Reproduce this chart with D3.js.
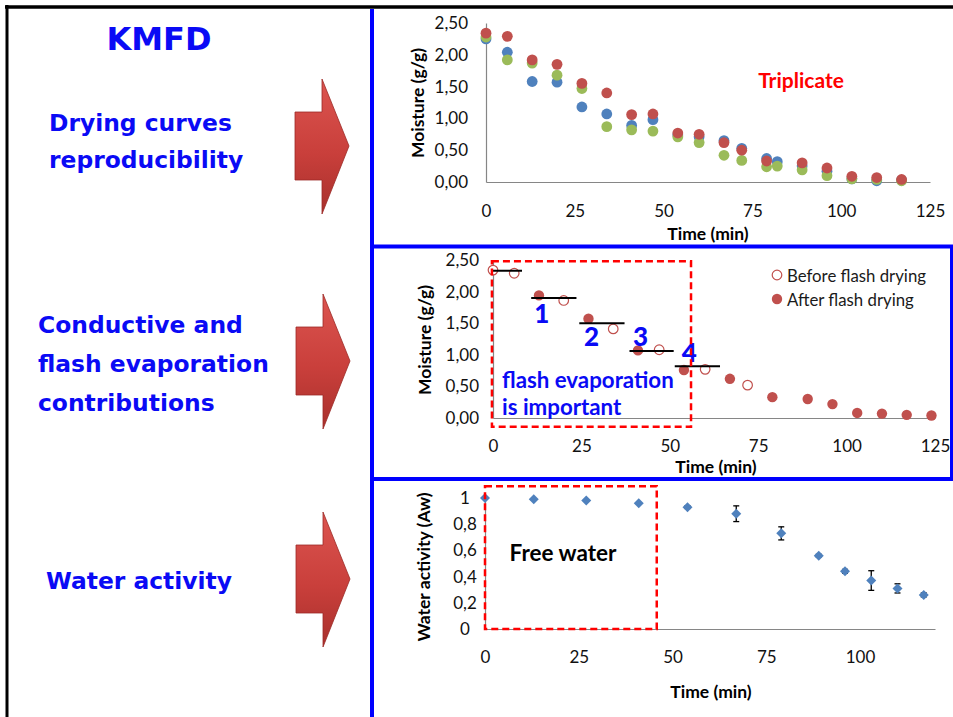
<!DOCTYPE html>
<html>
<head>
<meta charset="utf-8">
<script src="https://cdn.jsdelivr.net/npm/d3@7"></script>
<style>
  body { margin: 0; background: #fff; }
  svg { display: block; }
</style>
</head>
<body>
<script>
// drying curves, triplicate
const tripTimes = [0, 6, 13, 20, 27, 34, 41, 47, 54, 60, 67, 72, 79, 82, 89, 96, 103, 110, 117];
const tripBlue = [2.25, 2.04, 1.58, 1.57, 1.18, 1.07, 0.89, 0.98, 0.74, 0.71, 0.65, 0.53, 0.37, 0.32, 0.25, 0.17, 0.05, 0.02, 0.03];
const tripGreen = [2.28, 1.92, 1.87, 1.68, 1.47, 0.87, 0.82, 0.8, 0.71, 0.62, 0.42, 0.34, 0.24, 0.25, 0.19, 0.1, 0.05, 0.04, 0.02];
const tripRed = [2.34, 2.29, 1.92, 1.85, 1.55, 1.4, 1.06, 1.07, 0.77, 0.75, 0.62, 0.5, 0.33, null, 0.3, 0.22, 0.09, 0.07, 0.04];

// flash evaporation
const beforeTimes = [0, 6, 20, 34, 47, 60, 72];
const beforeValues = [2.34, 2.29, 1.86, 1.41, 1.08, 0.77, 0.52];
const afterTimes = [13, 27, 41, 54, 67, 79, 89, 96, 103, 110, 117, 124];
const afterValues = [1.94, 1.57, 1.07, 0.76, 0.62, 0.33, 0.3, 0.22, 0.08, 0.07, 0.05, 0.04];
const stepFrom = [-0.3, 10.8, 24.4, 38.6, 51.4];
const stepTo = [8.2, 23.6, 37.2, 51.1, 64.2];
const stepLevel = [2.33, 1.9, 1.5, 1.06, 0.82];
const stepLabels = ["1", "2", "3", "4"];
const stepLabelTimes = [13.8, 27.9, 41.7, 55.5];
const stepLabelValues = [1.66, 1.3, 1.3, 1.04];

// water activity
const awTimes = [0, 13, 27, 41, 54, 67, 79, 89, 96, 103, 110, 117];
const awValues = [1.0, 0.99, 0.98, 0.96, 0.93, 0.88, 0.73, 0.56, 0.44, 0.37, 0.31, 0.26];
const awErrors = [0.005, 0.005, 0.005, 0.005, 0.01, 0.06, 0.05, 0.01, 0.015, 0.075, 0.035, 0.015];

const moistureTicks = [0, 0.5, 1, 1.5, 2, 2.5];
const awTicks = [0, 0.2, 0.4, 0.6, 0.8, 1];
const timeTicks = [0, 25, 50, 75, 100, 125];
const awTimeTicks = [0, 25, 50, 75, 100];

const leftTitle = "KMFD";
const leftLines = [
  ["Drying curves", "reproducibility"],
  ["Conductive and", "flash evaporation", "contributions"],
  ["Water activity"],
];

const blue = "#4f81bd";
const red = "#c0504d";
const green = "#9bbb59";
const textBlue = "#0a0af5";
const axisGrey = "#868686";
const chartFont = "Lato, 'Open Sans', sans-serif";
const leftFont = "'DejaVu Sans', Verdana, sans-serif";

const width = 953;
const height = 717;

const svg = d3
  .select("body")
  .append("svg")
  .attr("width", width)
  .attr("height", height);

const comma = (fmt) => (d) => d3.format(fmt)(d).replace(".", ",");

// frame lines
const frame = svg.append("g");
frame.append("line").attr("x1", 5).attr("x2", width).attr("y1", 7).attr("y2", 7)
  .attr("stroke", "#000").attr("stroke-width", 3.5);
frame.append("line").attr("x1", 7).attr("x2", 7).attr("y1", 5).attr("y2", height)
  .attr("stroke", "#000").attr("stroke-width", 3);
frame.append("line").attr("x1", 372).attr("x2", 372).attr("y1", 9).attr("y2", height)
  .attr("stroke", "#0000ff").attr("stroke-width", 4);
frame.append("line").attr("x1", 370).attr("x2", width).attr("y1", 246.5).attr("y2", 246.5)
  .attr("stroke", "#0000ff").attr("stroke-width", 4);
frame.append("line").attr("x1", 370).attr("x2", width).attr("y1", 479).attr("y2", 479)
  .attr("stroke", "#0000ff").attr("stroke-width", 4);
frame.append("line").attr("x1", 951.5).attr("x2", 951.5).attr("y1", 246).attr("y2", 479)
  .attr("stroke", "#0000ff").attr("stroke-width", 3);

// left text
const left = svg.append("g").attr("font-family", leftFont).attr("font-weight", "bold").attr("fill", textBlue);

left.append("text").attr("x", 159).attr("y", 50).attr("text-anchor", "middle")
  .attr("font-size", 32).text(leftTitle);

const leftX = [49, 38, 46];
const leftY = [131, 333, 589];
const leftStep = [37, 39, 0];

leftLines.forEach((lines, i) => {
  lines.forEach((line, j) => {
    left.append("text")
      .attr("x", leftX[i])
      .attr("y", leftY[i] + j * leftStep[i])
      .attr("font-size", 23.4)
      .text(line);
  });
});

// arrows
const defs = svg.append("defs");
const grad = defs.append("linearGradient").attr("id", "arrowGrad")
  .attr("x1", 0).attr("y1", 0).attr("x2", 0).attr("y2", 1);
grad.append("stop").attr("offset", "0%").attr("stop-color", "#dc5550");
grad.append("stop").attr("offset", "55%").attr("stop-color", "#c93f3b");
grad.append("stop").attr("offset", "100%").attr("stop-color", "#a8302c");

const arrowTips = [[349, 146], [350, 361], [350, 579]];
arrowTips.forEach(([tx, ty]) => {
  const pts = [
    [tx - 54, ty - 34], [tx - 27, ty - 34], [tx - 27, ty - 67], [tx, ty],
    [tx - 27, ty + 68], [tx - 27, ty + 34], [tx - 54, ty + 34],
  ];
  svg.append("path")
    .attr("d", d3.line()(pts) + "Z")
    .attr("fill", "url(#arrowGrad)")
    .attr("stroke", "#9c2a26")
    .attr("stroke-width", 0.8);
});

const styleAxis = (g) => {
  g.select(".domain").attr("stroke", axisGrey).attr("stroke-width", 1.2);
  g.selectAll(".tick line").remove();
  g.selectAll("text").attr("font-family", chartFont).attr("font-size", 17).attr("fill", "#111");
};

const axisTitle = (x, y, label, rotate) => {
  const t = svg.append("text")
    .attr("font-family", chartFont)
    .attr("font-weight", "bold")
    .attr("font-size", 17.5)
    .attr("fill", "#000")
    .attr("text-anchor", "middle")
    .attr("dominant-baseline", "central")
    .text(label);
  if (rotate) t.attr("transform", `translate(${x},${y}) rotate(-90)`);
  else t.attr("x", x).attr("y", y);
};

// chart 1: triplicate
const x1 = d3.scaleLinear().domain([0, 125]).range([486, 930]);
const y1 = d3.scaleLinear().domain([0, 2.5]).range([182, 23]);

svg.append("g").attr("transform", `translate(0,${y1(0)})`)
  .call(d3.axisBottom(x1).tickValues(timeTicks).tickSize(0).tickPadding(23).tickSizeOuter(0))
  .call(styleAxis);
svg.append("g").attr("transform", `translate(${x1(0)},0)`)
  .call(d3.axisLeft(y1).tickValues(moistureTicks).tickFormat(comma(".2f")).tickSize(0).tickPadding(18).tickSizeOuter(0))
  .call(styleAxis);

[[tripBlue, blue], [tripGreen, green], [tripRed, red]].forEach(([vals, color]) => {
  svg.append("g")
    .selectAll("circle")
    .data(tripTimes.map((t, i) => [t, vals[i]]).filter((d) => d[1] !== null))
    .enter()
    .append("circle")
    .attr("cx", (d) => x1(d[0]))
    .attr("cy", (d) => y1(d[1]))
    .attr("r", 5.4)
    .attr("fill", color);
});

axisTitle(417, 103, "Moisture (g/g)", true);
axisTitle(708, 233, "Time (min)", false);
svg.append("text").attr("x", 801).attr("y", 79)
  .attr("font-family", chartFont).attr("font-weight", "bold").attr("font-size", 21)
  .attr("fill", "#ff0000").attr("text-anchor", "middle").attr("dominant-baseline", "central")
  .text("Triplicate");

// chart 2: flash evaporation
const x2 = d3.scaleLinear().domain([0, 125]).range([493, 935]);
const y2 = d3.scaleLinear().domain([0, 2.5]).range([418, 260]);

svg.append("g").attr("transform", `translate(0,${y2(0)})`)
  .call(d3.axisBottom(x2).tickValues(timeTicks).tickSize(0).tickPadding(22).tickSizeOuter(0))
  .call(styleAxis);
svg.append("g").attr("transform", `translate(${x2(0)},0)`)
  .call(d3.axisLeft(y2).tickValues(moistureTicks).tickFormat(comma(".2f")).tickSize(0).tickPadding(14).tickSizeOuter(0))
  .call(styleAxis);

svg.append("g")
  .selectAll("circle")
  .data(afterTimes.map((t, i) => [t, afterValues[i]]))
  .enter()
  .append("circle")
  .attr("cx", (d) => x2(d[0]))
  .attr("cy", (d) => y2(d[1]))
  .attr("r", 5.2)
  .attr("fill", red);

svg.append("g")
  .selectAll("circle")
  .data(beforeTimes.map((t, i) => [t, beforeValues[i]]))
  .enter()
  .append("circle")
  .attr("cx", (d) => x2(d[0]))
  .attr("cy", (d) => y2(d[1]))
  .attr("r", 4.8)
  .attr("fill", "#fff")
  .attr("stroke", red)
  .attr("stroke-width", 1.2);

svg.append("g")
  .selectAll("line")
  .data(stepLevel.map((v, i) => [stepFrom[i], stepTo[i], v]))
  .enter()
  .append("line")
  .attr("x1", (d) => x2(d[0]))
  .attr("x2", (d) => x2(d[1]))
  .attr("y1", (d) => y2(d[2]))
  .attr("y2", (d) => y2(d[2]))
  .attr("stroke", "#000")
  .attr("stroke-width", 2);

svg.append("g")
  .selectAll("text")
  .data(stepLabels)
  .enter()
  .append("text")
  .attr("x", (d, i) => x2(stepLabelTimes[i]))
  .attr("y", (d, i) => y2(stepLabelValues[i]))
  .attr("font-family", chartFont)
  .attr("font-weight", 900)
  .attr("font-size", 26)
  .attr("fill", textBlue)
  .attr("text-anchor", "middle")
  .attr("dominant-baseline", "central")
  .text((d) => d);

svg.append("rect")
  .attr("x", x2(-0.3))
  .attr("y", y2(2.48))
  .attr("width", x2(56) - x2(-0.3))
  .attr("height", y2(-0.14) - y2(2.48))
  .attr("fill", "none")
  .attr("stroke", "#ff0000")
  .attr("stroke-width", 2.5)
  .attr("stroke-dasharray", "7,4");

["flash evaporation", "is important"].forEach((line, i) => {
  svg.append("text")
    .attr("x", 502)
    .attr("y", 379 + i * 27)
    .attr("font-family", chartFont)
    .attr("font-weight", "bold")
    .attr("font-size", 22.3)
    .attr("fill", textBlue)
    .attr("dominant-baseline", "central")
    .text(line);
});

const legend = svg.append("g").attr("font-family", chartFont).attr("font-size", 16.8).attr("fill", "#1a1a1a");
legend.append("circle").attr("cx", 777).attr("cy", 275).attr("r", 4.8)
  .attr("fill", "#fff").attr("stroke", red).attr("stroke-width", 1.2);
legend.append("text").attr("x", 787).attr("y", 275).attr("dominant-baseline", "central").text("Before flash drying");
legend.append("circle").attr("cx", 777).attr("cy", 299).attr("r", 5.2).attr("fill", red);
legend.append("text").attr("x", 787).attr("y", 299).attr("dominant-baseline", "central").text("After flash drying");

axisTitle(424, 340, "Moisture (g/g)", true);
axisTitle(716, 466, "Time (min)", false);

// chart 3: water activity
const x3 = d3.scaleLinear().domain([0, 120]).range([485, 935]);
const y3 = d3.scaleLinear().domain([0, 1]).range([629, 498]);

svg.append("g").attr("transform", `translate(0,${y3(0)})`)
  .call(d3.axisBottom(x3).tickValues(awTimeTicks).tickSize(0).tickPadding(22).tickSizeOuter(0))
  .call(styleAxis);
svg.append("g").attr("transform", `translate(${x3(0)},0)`)
  .call(d3.axisLeft(y3).tickValues(awTicks).tickFormat(comma(".1~f")).tickSize(0).tickPadding(11).tickSizeOuter(0))
  .call(styleAxis)
  .call((g) => g.selectAll("text").attr("text-anchor", "middle").attr("x", -20));

const awData = awTimes.map((t, i) => [t, awValues[i], awErrors[i]]);

const errBars = svg.append("g").attr("stroke", "#000").attr("stroke-width", 1.3);
awData.forEach(([t, v, e]) => {
  errBars.append("line").attr("x1", x3(t)).attr("x2", x3(t)).attr("y1", y3(v - e)).attr("y2", y3(v + e));
  errBars.append("line").attr("x1", x3(t) - 3).attr("x2", x3(t) + 3).attr("y1", y3(v - e)).attr("y2", y3(v - e));
  errBars.append("line").attr("x1", x3(t) - 3).attr("x2", x3(t) + 3).attr("y1", y3(v + e)).attr("y2", y3(v + e));
});

svg.append("g")
  .selectAll("path")
  .data(awData)
  .enter()
  .append("path")
  .attr("d", d3.symbol(d3.symbolSquare, 50))
  .attr("transform", (d) => `translate(${x3(d[0])},${y3(d[1])}) rotate(45)`)
  .attr("fill", blue);

svg.append("rect")
  .attr("x", x3(0))
  .attr("y", y3(1.09))
  .attr("width", x3(45.8) - x3(0))
  .attr("height", y3(0) - y3(1.09))
  .attr("fill", "none")
  .attr("stroke", "#ff0000")
  .attr("stroke-width", 2.5)
  .attr("stroke-dasharray", "7,4");

svg.append("text").attr("x", 563).attr("y", 552)
  .attr("font-family", chartFont).attr("font-weight", "bold").attr("font-size", 22.5)
  .attr("fill", "#000").attr("text-anchor", "middle").attr("dominant-baseline", "central")
  .text("Free water");

axisTitle(423, 567, "Water activity (Aw)", true);
axisTitle(711, 691, "Time (min)", false);
</script>
</body>
</html>
